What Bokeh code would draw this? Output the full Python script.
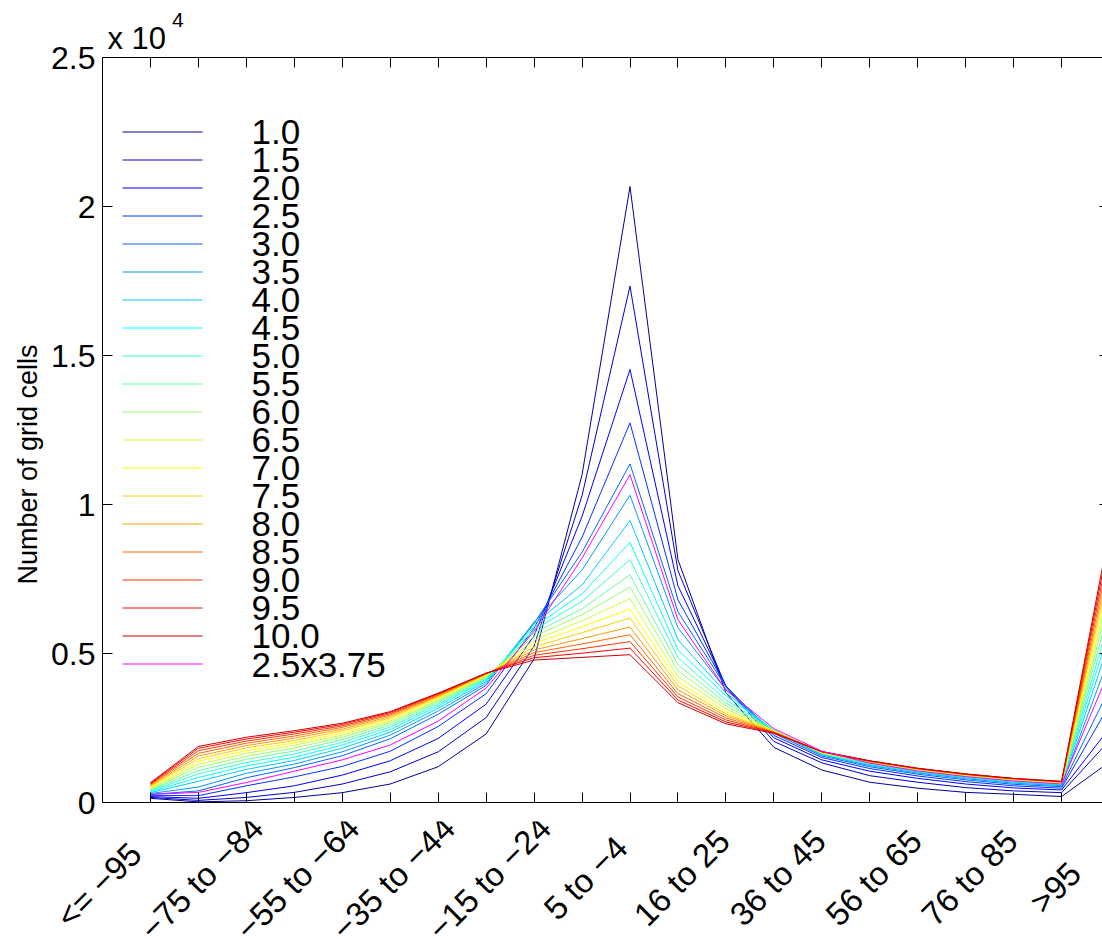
from math import pi, sqrt

from bokeh.core.properties import value
from bokeh.embed import file_html
from bokeh.layouts import column, row
from bokeh.models import ColumnDataSource, FixedTicker, LinearAxis, Range1d
from bokeh.plotting import figure
from bokeh.resources import INLINE

# ---------------------------------------------------------------- data
categories = ["<= \u221295", "\u221285 to \u221294", "\u221275 to \u221284",
              "\u221265 to \u221274", "\u221255 to \u221264", "\u221245 to \u221254",
              "\u221235 to \u221244", "\u221225 to \u221234", "\u221215 to \u221224",
              "\u22125 to \u221214", "5 to \u22124", "6 to 15", "16 to 25",
              "26 to 35", "36 to 45", "46 to 55", "56 to 65", "66 to 75",
              "76 to 85", "86 to 95", ">95"]

resolutions = ["1.0", "1.5", "2.0", "2.5", "3.0", "3.5", "4.0", "4.5", "5.0",
               "5.5", "6.0", "6.5", "7.0", "7.5", "8.0", "8.5", "9.0", "9.5",
               "10.0", "2.5x3.75"]

cells_1_0 = [140, 20, 60, 170, 330, 620, 1200, 2300, 4820, 11000, 20670,
             8150, 3680, 1850, 1090, 680, 480, 340, 275, 200, 1360]
cells_1_5 = [170, 70, 170, 340, 620, 1030, 1700, 2850, 5250, 10300, 17330,
             7780, 3880, 2050, 1330, 900, 680, 500, 390, 330, 2085]
cells_2_0 = [200, 140, 330, 560, 920, 1400, 2150, 3300, 5600, 9600, 14530,
             7270, 3910, 2170, 1430, 1050, 810, 620, 490, 420, 2500]
cells_2_5 = [240, 230, 560, 860, 1210, 1720, 2550, 3650, 5850, 8900, 12740,
             6800, 3910, 2250, 1510, 1140, 890, 700, 560, 480, 3290]
cells_3_0 = [270, 390, 830, 1170, 1570, 2140, 2960, 3930, 6020, 8400, 11360,
             6400, 3880, 2320, 1560, 1200, 950, 760, 610, 530, 3830]
cells_3_5 = [300, 520, 980, 1290, 1700, 2260, 3070, 4000, 6050, 7800, 10310,
             5860, 3780, 2380, 1600, 1240, 990, 800, 650, 565, 4910]
cells_4_0 = [330, 710, 1110, 1410, 1820, 2360, 3160, 4060, 5990, 7300, 9460,
             5460, 3680, 2420, 1620, 1270, 1020, 830, 680, 590, 5420]
cells_4_5 = [360, 840, 1230, 1520, 1930, 2450, 3240, 4110, 5900, 7000, 8730,
             5120, 3580, 2430, 1630, 1290, 1040, 850, 700, 610, 5815]
cells_5_0 = [390, 960, 1340, 1630, 2020, 2530, 3300, 4150, 5800, 6750, 8150,
             4860, 3440, 2430, 1640, 1310, 1060, 870, 720, 625, 6160]
cells_5_5 = [420, 1070, 1450, 1730, 2110, 2600, 3360, 4190, 5690, 6500, 7640,
             4620, 3340, 2420, 1650, 1330, 1075, 885, 735, 640, 6510]
cells_6_0 = [450, 1180, 1550, 1830, 2190, 2670, 3410, 4220, 5570, 6300, 7230,
             4420, 3240, 2410, 1660, 1340, 1090, 900, 750, 650, 6860]
cells_6_5 = [480, 1280, 1650, 1920, 2260, 2730, 3460, 4250, 5450, 6100, 6840,
             4220, 3140, 2400, 1670, 1350, 1100, 910, 760, 660, 7190]
cells_7_0 = [510, 1380, 1740, 2000, 2330, 2790, 3500, 4270, 5330, 5900, 6490,
             4050, 3040, 2390, 1680, 1360, 1110, 920, 770, 670, 7490]
cells_7_5 = [540, 1470, 1830, 2080, 2400, 2840, 3540, 4290, 5220, 5700, 6190,
             3910, 2970, 2380, 1690, 1370, 1120, 930, 780, 680, 7800]
cells_8_0 = [570, 1560, 1910, 2160, 2460, 2890, 3570, 4310, 5120, 5500, 5890,
             3780, 2910, 2370, 1695, 1380, 1130, 940, 790, 690, 8080]
cells_8_5 = [600, 1650, 1990, 2230, 2520, 2940, 3600, 4320, 5030, 5320, 5630,
             3650, 2840, 2360, 1700, 1385, 1135, 945, 795, 695, 8350]
cells_9_0 = [620, 1740, 2060, 2300, 2570, 2980, 3630, 4330, 4940, 5160, 5400,
             3540, 2770, 2350, 1705, 1390, 1140, 950, 800, 700, 8630]
cells_9_5 = [640, 1820, 2130, 2360, 2620, 3020, 3650, 4340, 4860, 5010, 5180,
             3440, 2700, 2340, 1710, 1395, 1145, 955, 805, 705, 8900]
cells_10_0 = [665, 1880, 2190, 2410, 2660, 3050, 3670, 4340, 4780, 4870, 4960,
              3350, 2640, 2320, 1710, 1400, 1150, 960, 810, 710, 9140]
cells_2_5x3_75 = [275, 340, 670, 1050, 1430, 1930, 2730, 3840, 5750, 8200, 11000,
                  6130, 3780, 2480, 1720, 1320, 1060, 870, 720, 620, 4445]

series = [cells_1_0, cells_1_5, cells_2_0, cells_2_5, cells_3_0, cells_3_5,
          cells_4_0, cells_4_5, cells_5_0, cells_5_5, cells_6_0, cells_6_5,
          cells_7_0, cells_7_5, cells_8_0, cells_8_5, cells_9_0, cells_9_5,
          cells_10_0, cells_2_5x3_75]

y_ticks = [0, 5000, 10000, 15000, 20000, 25000]
y_tick_labels = ["0", "0.5", "1", "1.5", "2", "2.5"]

# jet colormap in 19 steps, magenta for the 2.5x3.75 run
palette = ["#000099", "#0000CC", "#0000FF", "#0033FF", "#0066FF", "#0099FF",
           "#00CCFF", "#00FFFF", "#33FFCC", "#66FF99", "#99FF66", "#CCFF33",
           "#FFFF00", "#FFCC00", "#FF9900", "#FF6600", "#FF3300", "#FF0000",
           "#CC0000", "#FF00FF"]

# ---------------------------------------------------------------- geometry
W, H = 1102, 939
LEFT_W = 96           # column with the y title and the y tick labels
TOP_H = 55            # band with the exponent
BOTTOM_H = 118        # band with the rotated category names
FRAME_L, FRAME_T, FRAME_B = 102, 57, 802     # plot frame in page pixels
X0, X1 = -1, 19.853
Y0, Y1 = 0, 25000
FONT = "Liberation Sans"

SPX = (W - FRAME_L) / (X1 - X0)              # pixels per category
SPY = (FRAME_B - FRAME_T) / (Y1 - Y0)        # pixels per grid cell


def px_x(i):
    return FRAME_L + (i - X0) * SPX


def px_y(v):
    return FRAME_B - (v - Y0) * SPY


def xd(px):
    return X0 + (px - FRAME_L) / SPX


def yd(py):
    return Y0 + (FRAME_B - py) / SPY


def strip(width, height, x_lo, y_top):
    """A bare figure whose data units are the page's pixels."""
    f = figure(width=width, height=height, output_backend="svg",
               toolbar_location=None, min_border=0,
               x_axis_location=None, y_axis_location=None,
               x_range=Range1d(x_lo, x_lo + width),
               y_range=Range1d(y_top + height, y_top))
    f.grid.visible = False
    f.outline_line_color = None
    return f


# ---------------------------------------------------------------- main plot
main_w = W - LEFT_W
main_h = H - TOP_H - BOTTOM_H
p = figure(width=main_w, height=main_h, output_backend="svg",
           toolbar_location=None,
           x_range=Range1d(X0, X1), y_range=Range1d(Y0, Y1),
           min_border_left=FRAME_L - LEFT_W, min_border_top=FRAME_T - TOP_H,
           min_border_bottom=TOP_H + main_h - FRAME_B, min_border_right=0)
p.grid.visible = False
p.outline_line_color = None

idx = list(range(len(categories)))

top_axis = LinearAxis()
p.add_layout(top_axis, "above")
right_axis = LinearAxis()
p.add_layout(right_axis, "right")
for ax in (p.below[0], top_axis):
    ax.ticker = FixedTicker(ticks=idx)

yax = p.left[0]
for ax in (yax, right_axis):
    ax.ticker = FixedTicker(ticks=y_ticks)

for ax in (p.below[0], top_axis, yax, right_axis):
    ax.major_tick_in = 10
    ax.major_tick_out = 0
    ax.minor_tick_line_color = None
    ax.major_label_text_color = None      # labels are set in the side bands
    ax.major_label_text_font_size = "0px"
    ax.major_label_standoff = 0
    ax.axis_line_color = "black"
    ax.major_tick_line_color = "black"

# the right edge of the box lies just past the page: only tick stubs show
right_axis.axis_line_color = None
right_axis.major_tick_in = 3

for vals, color in zip(series, palette):
    src = ColumnDataSource(dict(x=idx, y=vals))
    p.line("x", "y", source=src, line_color=color, line_width=1)

# legend block: sample line and name, one row every 28 px
ROW0, ROW_STEP = 131.5, 28
n = len(resolutions)
rows_y = [yd(ROW0 + ROW_STEP * k) for k in range(n)]
leg = ColumnDataSource(dict(
    x0=[xd(122)] * n, x1=[xd(202)] * n, xt=[xd(251)] * n, y=rows_y,
    name=resolutions, swatch=palette))
p.segment(x0="x0", y0="y", x1="x1", y1="y", source=leg,
          line_color="swatch", line_width=1)
p.text(x="xt", y="y", text="name", source=leg, text_align="left",
       text_baseline="middle", text_font=value(FONT),
       text_font_size=value("35px"), text_color="black")

# ---------------------------------------------------------------- left band
left = strip(LEFT_W, H - BOTTOM_H, 0, 0)
left.text(x=[27], y=[464], text=["Number of grid cells"], angle=pi / 2,
          text_align="center", text_baseline="middle",
          text_font=value(FONT), text_font_size=value("27px"),
          text_color="black")
left.text(x=[FRAME_L - 7] * len(y_ticks), y=[px_y(v) for v in y_ticks],
          text=y_tick_labels, text_align="right", text_baseline="middle",
          text_font=value(FONT), text_font_size=value("32px"),
          text_color="black")

# ---------------------------------------------------------------- exponent
top = strip(W - LEFT_W, TOP_H, LEFT_W, 0)
top.text(x=[101], y=[37.5], text=["x 10"], text_align="left",
         text_baseline="middle", text_font=value(FONT),
         text_font_size=value("31px"), text_color="black")
top.text(x=[166], y=[19.5], text=["4"], text_align="left",
         text_baseline="middle", text_font=value(FONT),
         text_font_size=value("21px"), text_color="black")

# ---------------------------------------------------------------- category names
# right aligned as if every name were padded with blanks to the longest one
XFS = 33
blank = 0.278 * XFS
longest = max(len(c) for c in categories)
lab_i = idx[::2]
lab_t = categories[::2]
shift = [(longest - len(t)) * blank / sqrt(2) for t in lab_t]
bottom = strip(W, BOTTOM_H, 0, H - BOTTOM_H)
bsrc = ColumnDataSource(dict(
    x=[px_x(i) + 11 - s for i, s in zip(lab_i, shift)],
    y=[FRAME_B + 20 + s for s in shift],
    text=lab_t))
bottom.text(x="x", y="y", text="text", source=bsrc, angle=pi / 4,
            text_align="right", text_baseline="middle",
            text_font=value(FONT), text_font_size=value(f"{XFS}px"),
            text_color="black")

page = column(row(left, column(top, p)), bottom)
open("out.html", "w").write(file_html(page, INLINE))
